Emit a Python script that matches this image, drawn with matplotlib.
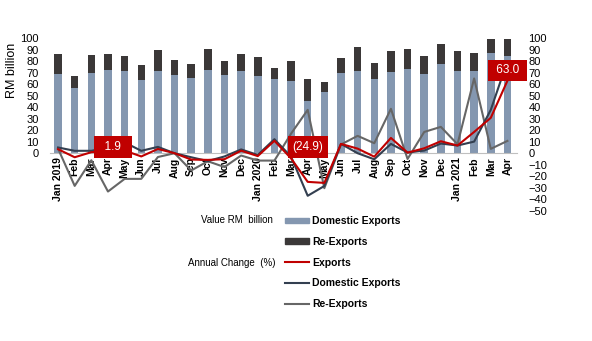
import matplotlib
matplotlib.use('Agg')
from matplotlib import pyplot as plt
from matplotlib.patches import Patch
from matplotlib.lines import Line2D
import numpy as np

plt.rcParams['font.family'] = ['Liberation Sans', 'DejaVu Sans']

# data
months = ['Jan 2019', 'Feb', 'Mar', 'Apr', 'May', 'Jun', 'Jul', 'Aug', 'Sep', 'Oct', 'Nov', 'Dec',
          'Jan 2020', 'Feb', 'Mar', 'Apr', 'May', 'Jun', 'Jul', 'Aug', 'Sep', 'Oct', 'Nov', 'Dec',
          'Jan 2021', 'Feb', 'Mar', 'Apr']
domestic = [69.0, 57.1, 70.1, 72.5, 71.6, 63.8, 71.6, 68.1, 65.8, 72.5, 68.1, 71.6,
            67.2, 64.6, 62.9, 45.5, 53.3, 69.9, 71.6, 64.6, 70.7, 73.3, 69.0, 77.7,
            71.6, 71.6, 87.2, 84.6]
reexports = [17.4, 10.1, 15.4, 13.9, 13.0, 13.0, 18.3, 13.1, 11.9, 18.2, 12.2, 14.8,
             16.6, 9.6, 17.4, 19.1, 8.7, 13.0, 20.9, 14.0, 18.3, 17.4, 15.6, 17.4,
             17.4, 15.6, 12.3, 14.4]
chg_exports = [3.5, -3.5, 0.9, 1.9, 2.3, -2.8, 3.7, 0.0, -5.5, -5.8, -5.2, 2.2,
               -2.5, 10.8, -4.5, -24.9, -25.8, 8.1, 4.0, -3.0, 13.3, 0.5, 4.3, 10.4,
               6.7, 18.5, 30.8, 63.0]
chg_domestic = [5.0, 2.1, 2.1, 5.0, 9.4, 2.1, 5.5, 0.0, -3.5, -6.8, -2.8, 3.3,
                -1.5, 12.2, -3.0, -37.0, -28.5, 8.1, 0.0, -5.3, 8.1, 0.6, 2.3, 8.4,
                6.7, 10.1, 37.7, 80.0]
chg_reexports = [4.0, -28.4, -6.1, -33.3, -22.3, -22.3, -3.3, 0.0, -15.0, -7.0, -12.0, -2.0,
                 -6.4, -6.4, 17.0, 37.7, -30.4, 7.6, 15.1, 8.7, 38.6, -5.0, 18.5, 22.9,
                 7.8, 65.0, 3.8, 10.7]
labelled = [3, 15, 27]  # points with a value box

c_dom = '#8497B0'
c_re = '#3B3838'
c_red = '#C00000'
c_navy = '#333F50'
c_gray = '#666666'

fig = plt.figure(figsize=(5.92, 3.41), dpi=100)
ax = fig.add_axes([0.084, 0.382, 0.790, 0.506])
ax2 = ax.twinx()

x = np.arange(len(months))
ax.bar(x, domestic, width=0.45, color=c_dom, zorder=2)
ax.bar(x, reexports, width=0.45, bottom=domestic, color=c_re, zorder=2)

ax2.plot(x, chg_exports, color=c_red, lw=1.5, zorder=3)
ax2.plot(x, chg_domestic, color=c_navy, lw=1.5, zorder=2)
ax2.plot(x, chg_reexports, color=c_gray, lw=1.5, zorder=1)

for i in labelled:
    v = chg_exports[i]
    if v < 0:
        txt = '({:.1f})'.format(-v)
    else:
        txt = '  {:.1f}  '.format(v) if v < 10 else ' {:.1f} '.format(v)
    ypos = v + 9 if i == 27 else 5.5
    ax2.text(i + 0.3 if i == 3 else i, ypos, txt, color='white', fontsize=8.5,
             ha='center', va='center', zorder=5,
             bbox=dict(boxstyle='square,pad=0.4', fc=c_red, ec='none'))

for a in (ax, ax2):
    a.set_ylim(-50, 100)
    a.set_xlim(-0.5, len(months) - 0.4)
    for s in a.spines.values():
        s.set_visible(False)
    a.tick_params(length=0, labelsize=8)

ax.spines['bottom'].set_visible(True)
ax.spines['bottom'].set_position(('data', 0))
ax.spines['bottom'].set_color('#BFBFBF')
ax.set_yticks(range(0, 101, 10))
ax2.set_yticks(range(-50, 101, 10))
ax2.tick_params(axis='y', pad=8)
ax.tick_params(axis='y', pad=8)
ax.set_xticks(x)
ax.set_xticklabels(months, rotation=90, fontweight='bold', fontsize=7.5)
ax.tick_params(axis='x', pad=3)

fig.text(12 / 592, 1 - 70 / 341, 'RM billion', rotation=90, ha='center', va='center', fontsize=9)

# legend
handles = [Patch(color=c_dom), Patch(color=c_re),
           Line2D([], [], color=c_red, lw=1.5),
           Line2D([], [], color=c_navy, lw=1.5),
           Line2D([], [], color=c_gray, lw=1.5)]
names = ['Domestic Exports', 'Re-Exports', 'Exports', 'Domestic Exports', 'Re-Exports']
leg = fig.legend(handles, names, loc='upper left', bbox_to_anchor=(0.465, 0.393),
                 frameon=False, fontsize=7.5, labelspacing=1.02, handlelength=2.3,
                 handletextpad=0.35, handleheight=0.45)
for t in leg.get_texts():
    t.set_fontweight('bold')
fig.text(273 / 592, 1 - 220 / 341, 'Value RM  billion', ha='right', va='center', fontsize=7)
fig.text(275 / 592, 1 - 262.5 / 341, 'Annual Change  (%)', ha='right', va='center', fontsize=7)

plt.savefig('out.png', dpi=100)
